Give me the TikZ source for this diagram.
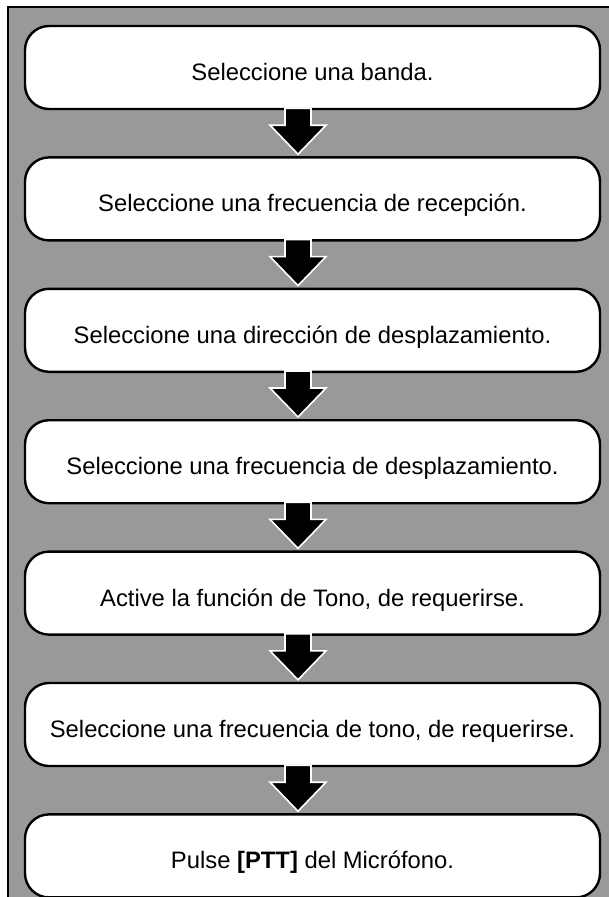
\documentclass[tikz,border=0pt]{standalone}
\usepackage{fontspec}
\setmainfont{Liberation Sans}
\usetikzlibrary{positioning,calc}

\tikzset{
  stepbox/.style={draw, line width=2.4pt, fill=white, rounded corners=24pt,
    minimum width=575pt, minimum height=83pt, inner sep=0pt,
    text height=26pt, text depth=0pt,
    font=\fontsize{23.8pt}{27pt}\selectfont},
  downarrow/.style={fill=black, draw=white, line width=1.6pt, line join=miter}
}
% fat arrow from the bottom of one box to the top of the next
\newcommand{\flowarrow}[2]{%
  \draw[downarrow] ($(#1.south)+(-14.5pt,2pt)$) coordinate (t)
    -- ++(-13pt,0) -- ++(0,-17pt) -- ++(-15pt,0)
    -- ($(t)+(0,-46pt)$) -- ($(t)+(28pt,-17pt)$) -- ++(-15pt,0)
    -- ($(t)+(13pt,0)$) -- cycle;}

\begin{document}
\begin{tikzpicture}[x=1pt, y=1pt, node distance=46pt]
  \useasboundingbox (0,0) rectangle (609,-897);
  % panel
  \fill[black!40] (8,-7) rectangle (609,-897);
  \draw[line width=2pt] (8,-897) -- (8,-7) -- (609,-7);

  % steps
  \node[stepbox] (band) at (312.5,-67.5) {Seleccione una banda.};
  \node[stepbox, below=of band] (rx) {Seleccione una frecuencia de recepción.};
  \node[stepbox, below=of rx] (dir) {Seleccione una dirección de desplazamiento.};
  \node[stepbox, below=of dir] (shift) {Seleccione una frecuencia de desplazamiento.};
  \node[stepbox, below=of shift] (tone) {Active la función de Tono, de requerirse.};
  \node[stepbox, below=of tone] (tonef) {Seleccione una frecuencia de tono, de requerirse.};
  \node[stepbox, below=of tonef] (ptt) {Pulse \textbf{[PTT]} del Micrófono.};

  % arrows
  \flowarrow{band}{rx}
  \flowarrow{rx}{dir}
  \flowarrow{dir}{shift}
  \flowarrow{shift}{tone}
  \flowarrow{tone}{tonef}
  \flowarrow{tonef}{ptt}
\end{tikzpicture}
\end{document}
